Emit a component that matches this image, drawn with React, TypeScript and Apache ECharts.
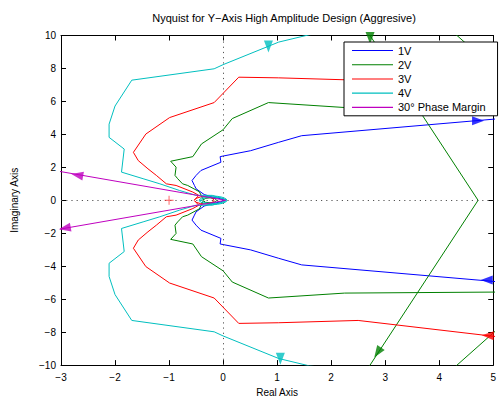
import React, { useEffect, useRef } from "react";
import * as echarts from "echarts";

type Pt = [number, number];

const chartTitle = "Nyquist for Y\u2212Axis High Amplitude Design (Aggresive)";
const legendNames = ["1V", "2V", "3V", "4V", "30\u00b0 Phase Margin"];
const lineColors = ["#0000ff", "#008000", "#ff0000", "#00bfbf", "#bf00bf"];

// Positive-frequency branches (upper half plane), listed from the
// high-frequency end near the origin outward. Points beyond the axis
// limits are clipped by the grid.
const branch1V: Pt[] = [
  [0.02, 0.0], [-0.05, 0.1], [-0.2, 0.2], [-0.35, 0.35], [-0.5, 0.7],
  [-0.53, 0.9], [-0.575, 1.2], [-0.5, 1.51], [-0.41, 1.81], [-0.04, 2.31],
  [-0.055, 2.65], [0.51, 3.01], [1.03, 3.52], [1.455, 3.92], [5.0, 4.92],
  [6.0, 5.2],
];

const branch2V: Pt[] = [
  [-0.12, 0.0], [-0.15, 0.1], [-0.24, 0.15], [-0.33, 0.12], [-0.36, 0.02],
  [-0.44, 0.52], [-0.655, 0.9], [-0.75, 1.0], [-0.84, 1.31], [-0.89, 1.51],
  [-0.87, 2.01], [-0.97, 2.37], [-0.56, 2.65], [-0.4, 3.42], [0.0, 4.28],
  [0.17, 4.96], [0.84, 5.93], [2.25, 5.63], [5.0, 5.57], [6.5, 5.55],
  [5.6, 6.3], [4.33, 10.0], [4.2, 10.4], [2.64, 10.4], [2.72, 10.0],
  [4.72, 0.0],
];

const branch3V: Pt[] = [
  [-0.17, 0.0], [-0.2, 0.15], [-0.3, 0.22], [-0.42, 0.2], [-0.5, 0.12],
  [-0.53, 0.02], [-0.45, 0.3], [-0.56, 0.5], [-0.87, 0.9], [-1.05, 1.0],
  [-1.235, 1.51], [-1.39, 1.91], [-1.57, 2.41], [-1.66, 2.91], [-1.43, 4.02],
  [-0.99, 5.02], [-0.165, 5.93], [0.29, 7.47], [1.03, 7.43], [2.5, 7.29],
  [5.0, 8.25], [6.0, 8.6],
];

const branch4V: Pt[] = [
  [0.03, 0.0], [0.01, 0.08], [-0.06, 0.16], [-0.19, 0.2], [-0.32, 0.16],
  [-0.38, 0.08], [-0.4, 0.01], [-0.44, 0.02], [-0.42, 0.1], [-0.36, 0.19],
  [-0.28, 0.24], [-0.19, 0.26], [-0.1, 0.24], [-0.02, 0.19], [0.05, 0.1],
  [0.07, 0.02], [-0.2, 0.3], [-0.5, 0.3],
  [-0.81, 0.6], [-1.17, 1.0], [-1.48, 1.31], [-1.88, 1.71], [-1.83, 3.11],
  [-2.11, 3.82], [-2.11, 4.62], [-2.0, 5.72], [-1.69, 7.29], [-0.165, 7.98],
  [0.0, 8.23], [1.03, 9.6], [1.6, 10.05], [3.0, 10.6],
];

const branchPM: Pt[] = [[0.05, 0.0], [-3.6, 2.08]];

// Direction markers: [x, y, symbol rotation in degrees, series index]
const arrowMarks: [number, number, number, number][] = [
  [4.72, 4.83, -90, 0],
  [4.88, -4.84, 90, 0],
  [2.72, 9.85, 180, 1],
  [2.86, -9.24, 146, 1],
  [4.9, -8.2, 88, 2],
  [0.84, 9.34, 180, 3],
  [1.06, -9.62, 180, 3],
  [-2.7, 1.53, 80, 4],
  [-2.93, -1.69, 100, 4],
];

const criticalPoint: Pt = [-1, 0];

// Negative-frequency branch is the complex conjugate of the positive one.
const closeContour = (b: Pt[]): Pt[] => [
  ...b.slice().reverse().map(([x, y]) => [x, -y] as Pt),
  ...b,
];

const branches = [branch1V, branch2V, branch3V, branch4V, branchPM];

const FONT = "'Liberation Sans', Arial, Helvetica, sans-serif";
const minus = (v: number) => String(v).replace("-", "\u2212");

// Thin horizontal stroke for legend keys; the two tiny corner squares
// keep the icon's bounding box at full item size so it is not stretched.
const LEGEND_LINE =
  "path://M0,0H0.01V0.01H0Z M0,5H41V6.1H0Z M40.99,10.99H41V11H40.99Z";

export default function App() {
  const ref = useRef<HTMLDivElement>(null);

  useEffect(() => {
    if (!ref.current) return;
    const chart = echarts.init(ref.current, undefined, { renderer: "svg" });

    const axisCommon = {
      type: "value" as const,
      axisLine: { show: true, onZero: false, lineStyle: { color: "#000", width: 1 } },
      axisTick: { show: true, inside: true, length: 5, lineStyle: { color: "#000" } },
      splitLine: { show: false },
    };

    const lineSeries: any[] = branches.map((b, i) => ({
      name: legendNames[i],
      type: "line",
      data: closeContour(b),
      symbol: "none",
      showSymbol: false,
      clip: true,
      lineStyle: { color: lineColors[i], width: 1 },
      itemStyle: { color: lineColors[i] },
      z: 3 + i,
    }));

    chart.setOption({
      animation: false,
      backgroundColor: "#fff",
      title: {
        text: chartTitle,
        left: 279,
        top: 7,
        textAlign: "center",
        textStyle: { fontFamily: FONT, fontSize: 11, fontWeight: "normal", color: "#000" },
      },
      legend: {
        data: legendNames.map((n) => ({ name: n, icon: LEGEND_LINE })),
        orient: "vertical",
        left: 344,
        top: 42,
        z: 30,
        padding: [3, 12, 3, 8],
        itemWidth: 41,
        itemHeight: 11,
        itemGap: 3.2,
        backgroundColor: "#fff",
        borderColor: "#000",
        borderWidth: 1,
        borderRadius: 0,
        itemStyle: { borderWidth: 0 },
        textStyle: { fontFamily: FONT, fontSize: 11, color: "#000" },
      },
      grid: { left: 61, right: 2, top: 35.5, bottom: 34.5, containLabel: false },
      xAxis: [
        {
          ...axisCommon,
          position: "bottom",
          min: -3,
          max: 5,
          interval: 1,
          name: "Real Axis",
          nameLocation: "middle",
          nameGap: 16,
          nameTextStyle: { fontFamily: FONT, fontSize: 10, color: "#000" },
          axisLabel: {
            margin: 7,
            fontFamily: FONT,
            fontSize: 10,
            color: "#000",
            formatter: minus,
          },
        },
        {
          ...axisCommon,
          position: "top",
          min: -3,
          max: 5,
          interval: 1,
          axisLabel: { show: false },
        },
      ],
      yAxis: [
        {
          ...axisCommon,
          position: "left",
          min: -10,
          max: 10,
          interval: 2,
          name: "Imaginary Axis",
          nameLocation: "middle",
          nameGap: 42,
          nameTextStyle: { fontFamily: FONT, fontSize: 10, color: "#000" },
          axisLabel: {
            margin: 5,
            fontFamily: FONT,
            fontSize: 10,
            color: "#000",
            formatter: minus,
          },
        },
        {
          ...axisCommon,
          position: "right",
          min: -10,
          max: 10,
          interval: 2,
          axisLabel: { show: false },
        },
      ],
      series: [
        {
          type: "line",
          data: [],
          silent: true,
          markLine: {
            silent: true,
            symbol: "none",
            label: { show: false },
            lineStyle: { color: "#555", width: 1, type: [1.2, 4] },
            data: [{ xAxis: 0 }, { yAxis: 0 }],
          },
          z: 1,
        },
        ...lineSeries,
        {
          type: "scatter",
          silent: true,
          data: arrowMarks.map(([x, y, rot, s]) => ({
            value: [x, y],
            symbolRotate: rot,
            itemStyle: { color: lineColors[s] },
          })),
          symbol: "triangle",
          symbolSize: [9, 12],
          z: 10,
        },
        {
          type: "scatter",
          silent: true,
          data: [criticalPoint],
          symbol: "path://M4.5,0H5.5V4.5H10V5.5H5.5V10H4.5V5.5H0V4.5H4.5Z",
          symbolSize: 9,
          itemStyle: { color: "#ff3030" },
          z: 10,
        },
      ],
    });

    return () => chart.dispose();
  }, []);

  return (
    <div
      ref={ref}
      style={{ position: "fixed", left: 0, top: 0, width: 499, height: 402 }}
    />
  );
}
